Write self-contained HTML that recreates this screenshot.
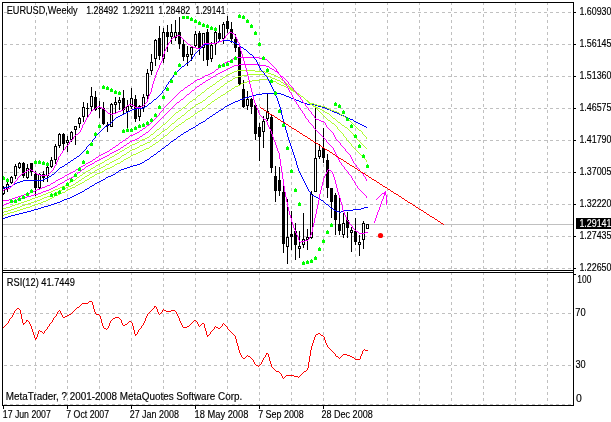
<!DOCTYPE html>
<html><head><meta charset="utf-8"><title>EURUSD Weekly</title>
<style>html,body{margin:0;padding:0;background:#fff;overflow:hidden}svg{display:block}text{font-family:"Liberation Sans",sans-serif;fill:#000;stroke:#000;stroke-width:0.15px}</style>
</head><body>
<svg width="611" height="422" viewBox="0 0 611 422">
<rect x="0" y="0" width="611" height="422" fill="#fff"/>
<g stroke="#c0c0c0" stroke-width="1" stroke-dasharray="3 3" shape-rendering="crispEdges">
<line x1="4" y1="12.5" x2="573" y2="12.5"/>
<line x1="4" y1="44.5" x2="573" y2="44.5"/>
<line x1="4" y1="76.5" x2="573" y2="76.5"/>
<line x1="4" y1="108.5" x2="573" y2="108.5"/>
<line x1="4" y1="140.5" x2="573" y2="140.5"/>
<line x1="4" y1="172.5" x2="573" y2="172.5"/>
<line x1="4" y1="204.5" x2="573" y2="204.5"/>
<line x1="4" y1="236.5" x2="573" y2="236.5"/>
<line x1="4" y1="268.5" x2="573" y2="268.5"/>
<line x1="4" y1="313.5" x2="573" y2="313.5"/>
<line x1="4" y1="365.5" x2="573" y2="365.5"/>
<line x1="4" y1="404.5" x2="573" y2="404.5"/>
<line x1="35.5" y1="2" x2="35.5" y2="270"/>
<line x1="35.5" y1="272" x2="35.5" y2="405"/>
<line x1="67.5" y1="2" x2="67.5" y2="270"/>
<line x1="67.5" y1="272" x2="67.5" y2="405"/>
<line x1="99.5" y1="2" x2="99.5" y2="270"/>
<line x1="99.5" y1="272" x2="99.5" y2="405"/>
<line x1="131.5" y1="2" x2="131.5" y2="270"/>
<line x1="131.5" y1="272" x2="131.5" y2="405"/>
<line x1="163.5" y1="2" x2="163.5" y2="270"/>
<line x1="163.5" y1="272" x2="163.5" y2="405"/>
<line x1="195.5" y1="2" x2="195.5" y2="270"/>
<line x1="195.5" y1="272" x2="195.5" y2="405"/>
<line x1="227.5" y1="2" x2="227.5" y2="270"/>
<line x1="227.5" y1="272" x2="227.5" y2="405"/>
<line x1="259.5" y1="2" x2="259.5" y2="270"/>
<line x1="259.5" y1="272" x2="259.5" y2="405"/>
<line x1="291.5" y1="2" x2="291.5" y2="270"/>
<line x1="291.5" y1="272" x2="291.5" y2="405"/>
<line x1="323.5" y1="2" x2="323.5" y2="270"/>
<line x1="323.5" y1="272" x2="323.5" y2="405"/>
<line x1="355.5" y1="2" x2="355.5" y2="270"/>
<line x1="355.5" y1="272" x2="355.5" y2="405"/>
<line x1="387.5" y1="2" x2="387.5" y2="270"/>
<line x1="387.5" y1="272" x2="387.5" y2="405"/>
<line x1="419.5" y1="2" x2="419.5" y2="270"/>
<line x1="419.5" y1="272" x2="419.5" y2="405"/>
<line x1="451.5" y1="2" x2="451.5" y2="270"/>
<line x1="451.5" y1="272" x2="451.5" y2="405"/>
<line x1="483.5" y1="2" x2="483.5" y2="270"/>
<line x1="483.5" y1="272" x2="483.5" y2="405"/>
<line x1="515.5" y1="2" x2="515.5" y2="270"/>
<line x1="515.5" y1="272" x2="515.5" y2="405"/>
<line x1="547.5" y1="2" x2="547.5" y2="270"/>
<line x1="547.5" y1="272" x2="547.5" y2="405"/>
</g>
<rect x="3" y="224" width="570" height="1" fill="#c0c0c0" shape-rendering="crispEdges"/>
<g shape-rendering="crispEdges">
<rect x="3" y="186" width="1" height="9" fill="#000"/>
<rect x="2" y="188" width="3" height="6" fill="#000"/>
<rect x="3" y="189" width="1" height="4" fill="#fff"/>
<rect x="7" y="182" width="1" height="10" fill="#000"/>
<rect x="6" y="184" width="3" height="5" fill="#000"/>
<rect x="7" y="185" width="1" height="3" fill="#fff"/>
<rect x="11" y="176" width="1" height="8" fill="#000"/>
<rect x="10" y="177" width="3" height="6" fill="#000"/>
<rect x="11" y="178" width="1" height="4" fill="#fff"/>
<rect x="15" y="164" width="1" height="15" fill="#000"/>
<rect x="14" y="166" width="3" height="10" fill="#000"/>
<rect x="15" y="167" width="1" height="8" fill="#fff"/>
<rect x="19" y="162" width="1" height="7" fill="#000"/>
<rect x="18" y="163" width="3" height="5" fill="#000"/>
<rect x="19" y="164" width="1" height="3" fill="#fff"/>
<rect x="23" y="162" width="1" height="16" fill="#000"/>
<rect x="22" y="163" width="3" height="13" fill="#000"/>
<rect x="27" y="164" width="1" height="15" fill="#000"/>
<rect x="26" y="168" width="3" height="10" fill="#000"/>
<rect x="27" y="169" width="1" height="8" fill="#fff"/>
<rect x="31" y="163" width="1" height="13" fill="#000"/>
<rect x="30" y="163" width="3" height="9" fill="#000"/>
<rect x="35" y="171" width="1" height="25" fill="#000"/>
<rect x="34" y="174" width="3" height="14" fill="#000"/>
<rect x="39" y="173" width="1" height="16" fill="#000"/>
<rect x="38" y="174" width="3" height="14" fill="#000"/>
<rect x="39" y="175" width="1" height="12" fill="#fff"/>
<rect x="43" y="171" width="1" height="11" fill="#000"/>
<rect x="42" y="174" width="3" height="4" fill="#000"/>
<rect x="47" y="166" width="1" height="16" fill="#000"/>
<rect x="46" y="167" width="3" height="9" fill="#000"/>
<rect x="47" y="168" width="1" height="7" fill="#fff"/>
<rect x="51" y="157" width="1" height="11" fill="#000"/>
<rect x="50" y="160" width="3" height="7" fill="#000"/>
<rect x="51" y="161" width="1" height="5" fill="#fff"/>
<rect x="55" y="144" width="1" height="20" fill="#000"/>
<rect x="54" y="146" width="3" height="14" fill="#000"/>
<rect x="55" y="147" width="1" height="12" fill="#fff"/>
<rect x="59" y="133" width="1" height="15" fill="#000"/>
<rect x="58" y="134" width="3" height="12" fill="#000"/>
<rect x="59" y="135" width="1" height="10" fill="#fff"/>
<rect x="63" y="133" width="1" height="17" fill="#000"/>
<rect x="62" y="134" width="3" height="10" fill="#000"/>
<rect x="67" y="136" width="1" height="16" fill="#000"/>
<rect x="66" y="140" width="3" height="3" fill="#000"/>
<rect x="67" y="141" width="1" height="1" fill="#fff"/>
<rect x="71" y="131" width="1" height="11" fill="#000"/>
<rect x="70" y="132" width="3" height="8" fill="#000"/>
<rect x="71" y="133" width="1" height="6" fill="#fff"/>
<rect x="75" y="126" width="1" height="19" fill="#000"/>
<rect x="74" y="126" width="3" height="4" fill="#000"/>
<rect x="75" y="127" width="1" height="2" fill="#fff"/>
<rect x="79" y="117" width="1" height="11" fill="#000"/>
<rect x="78" y="118" width="3" height="6" fill="#000"/>
<rect x="79" y="119" width="1" height="4" fill="#fff"/>
<rect x="83" y="102" width="1" height="20" fill="#000"/>
<rect x="82" y="107" width="3" height="10" fill="#000"/>
<rect x="83" y="108" width="1" height="8" fill="#fff"/>
<rect x="87" y="103" width="1" height="15" fill="#000"/>
<rect x="86" y="108" width="3" height="1" fill="#000"/>
<rect x="91" y="87" width="1" height="24" fill="#000"/>
<rect x="90" y="96" width="3" height="11" fill="#000"/>
<rect x="91" y="97" width="1" height="9" fill="#fff"/>
<rect x="95" y="91" width="1" height="20" fill="#000"/>
<rect x="94" y="97" width="3" height="13" fill="#000"/>
<rect x="99" y="101" width="1" height="17" fill="#000"/>
<rect x="98" y="108" width="3" height="1" fill="#000"/>
<rect x="103" y="102" width="1" height="23" fill="#000"/>
<rect x="102" y="108" width="3" height="16" fill="#000"/>
<rect x="107" y="122" width="1" height="10" fill="#000"/>
<rect x="106" y="125" width="3" height="1" fill="#000"/>
<rect x="111" y="103" width="1" height="24" fill="#000"/>
<rect x="110" y="104" width="3" height="23" fill="#000"/>
<rect x="111" y="105" width="1" height="21" fill="#fff"/>
<rect x="115" y="97" width="1" height="17" fill="#000"/>
<rect x="114" y="102" width="3" height="3" fill="#000"/>
<rect x="115" y="103" width="1" height="1" fill="#fff"/>
<rect x="119" y="97" width="1" height="13" fill="#000"/>
<rect x="118" y="100" width="3" height="3" fill="#000"/>
<rect x="119" y="101" width="1" height="1" fill="#fff"/>
<rect x="123" y="90" width="1" height="24" fill="#000"/>
<rect x="122" y="98" width="3" height="12" fill="#000"/>
<rect x="127" y="100" width="1" height="28" fill="#000"/>
<rect x="126" y="106" width="3" height="6" fill="#000"/>
<rect x="127" y="107" width="1" height="4" fill="#fff"/>
<rect x="131" y="88" width="1" height="21" fill="#000"/>
<rect x="130" y="98" width="3" height="9" fill="#000"/>
<rect x="131" y="99" width="1" height="7" fill="#fff"/>
<rect x="135" y="95" width="1" height="27" fill="#000"/>
<rect x="134" y="99" width="3" height="20" fill="#000"/>
<rect x="139" y="105" width="1" height="16" fill="#000"/>
<rect x="138" y="106" width="3" height="11" fill="#000"/>
<rect x="139" y="107" width="1" height="9" fill="#fff"/>
<rect x="143" y="94" width="1" height="18" fill="#000"/>
<rect x="142" y="97" width="3" height="11" fill="#000"/>
<rect x="143" y="98" width="1" height="9" fill="#fff"/>
<rect x="147" y="69" width="1" height="31" fill="#000"/>
<rect x="146" y="73" width="3" height="23" fill="#000"/>
<rect x="147" y="74" width="1" height="21" fill="#fff"/>
<rect x="151" y="54" width="1" height="21" fill="#000"/>
<rect x="150" y="62" width="3" height="9" fill="#000"/>
<rect x="151" y="63" width="1" height="7" fill="#fff"/>
<rect x="155" y="39" width="1" height="27" fill="#000"/>
<rect x="154" y="40" width="3" height="19" fill="#000"/>
<rect x="155" y="41" width="1" height="17" fill="#fff"/>
<rect x="159" y="26" width="1" height="34" fill="#000"/>
<rect x="158" y="38" width="3" height="18" fill="#000"/>
<rect x="163" y="28" width="1" height="35" fill="#000"/>
<rect x="162" y="32" width="3" height="27" fill="#000"/>
<rect x="163" y="33" width="1" height="25" fill="#fff"/>
<rect x="167" y="25" width="1" height="27" fill="#000"/>
<rect x="166" y="32" width="3" height="5" fill="#000"/>
<rect x="171" y="24" width="1" height="20" fill="#000"/>
<rect x="170" y="32" width="3" height="5" fill="#000"/>
<rect x="171" y="33" width="1" height="3" fill="#fff"/>
<rect x="175" y="20" width="1" height="21" fill="#000"/>
<rect x="174" y="32" width="3" height="6" fill="#000"/>
<rect x="175" y="33" width="1" height="4" fill="#fff"/>
<rect x="179" y="17" width="1" height="32" fill="#000"/>
<rect x="178" y="32" width="3" height="12" fill="#000"/>
<rect x="183" y="39" width="1" height="22" fill="#000"/>
<rect x="182" y="44" width="3" height="13" fill="#000"/>
<rect x="187" y="46" width="1" height="20" fill="#000"/>
<rect x="186" y="54" width="3" height="3" fill="#000"/>
<rect x="187" y="55" width="1" height="1" fill="#fff"/>
<rect x="191" y="46" width="1" height="15" fill="#000"/>
<rect x="190" y="47" width="3" height="8" fill="#000"/>
<rect x="191" y="48" width="1" height="6" fill="#fff"/>
<rect x="195" y="31" width="1" height="16" fill="#000"/>
<rect x="194" y="34" width="3" height="12" fill="#000"/>
<rect x="195" y="35" width="1" height="10" fill="#fff"/>
<rect x="199" y="31" width="1" height="24" fill="#000"/>
<rect x="198" y="33" width="3" height="15" fill="#000"/>
<rect x="203" y="33" width="1" height="28" fill="#000"/>
<rect x="202" y="33" width="3" height="15" fill="#000"/>
<rect x="203" y="34" width="1" height="13" fill="#fff"/>
<rect x="207" y="29" width="1" height="37" fill="#000"/>
<rect x="206" y="32" width="3" height="28" fill="#000"/>
<rect x="211" y="42" width="1" height="20" fill="#000"/>
<rect x="210" y="45" width="3" height="14" fill="#000"/>
<rect x="211" y="46" width="1" height="12" fill="#fff"/>
<rect x="215" y="30" width="1" height="25" fill="#000"/>
<rect x="214" y="32" width="3" height="12" fill="#000"/>
<rect x="215" y="33" width="1" height="10" fill="#fff"/>
<rect x="219" y="25" width="1" height="17" fill="#000"/>
<rect x="218" y="33" width="3" height="6" fill="#000"/>
<rect x="223" y="22" width="1" height="22" fill="#000"/>
<rect x="222" y="24" width="3" height="15" fill="#000"/>
<rect x="223" y="25" width="1" height="13" fill="#fff"/>
<rect x="227" y="16" width="1" height="17" fill="#000"/>
<rect x="226" y="21" width="3" height="8" fill="#000"/>
<rect x="231" y="22" width="1" height="21" fill="#000"/>
<rect x="230" y="29" width="3" height="10" fill="#000"/>
<rect x="235" y="34" width="1" height="18" fill="#000"/>
<rect x="234" y="39" width="3" height="9" fill="#000"/>
<rect x="239" y="46" width="1" height="40" fill="#000"/>
<rect x="238" y="47" width="3" height="37" fill="#000"/>
<rect x="243" y="80" width="1" height="28" fill="#000"/>
<rect x="242" y="89" width="3" height="18" fill="#000"/>
<rect x="247" y="91" width="1" height="19" fill="#000"/>
<rect x="246" y="99" width="3" height="7" fill="#000"/>
<rect x="247" y="100" width="1" height="5" fill="#fff"/>
<rect x="251" y="98" width="1" height="16" fill="#000"/>
<rect x="250" y="99" width="3" height="8" fill="#000"/>
<rect x="255" y="104" width="1" height="36" fill="#000"/>
<rect x="254" y="105" width="3" height="29" fill="#000"/>
<rect x="259" y="123" width="1" height="38" fill="#000"/>
<rect x="258" y="127" width="3" height="10" fill="#000"/>
<rect x="263" y="116" width="1" height="32" fill="#000"/>
<rect x="262" y="121" width="3" height="11" fill="#000"/>
<rect x="263" y="122" width="1" height="9" fill="#fff"/>
<rect x="267" y="93" width="1" height="28" fill="#000"/>
<rect x="266" y="111" width="3" height="8" fill="#000"/>
<rect x="267" y="112" width="1" height="6" fill="#fff"/>
<rect x="271" y="114" width="1" height="59" fill="#000"/>
<rect x="270" y="117" width="3" height="51" fill="#000"/>
<rect x="275" y="166" width="1" height="36" fill="#000"/>
<rect x="274" y="176" width="3" height="15" fill="#000"/>
<rect x="279" y="167" width="1" height="29" fill="#000"/>
<rect x="278" y="180" width="3" height="11" fill="#000"/>
<rect x="283" y="185" width="1" height="68" fill="#000"/>
<rect x="282" y="192" width="3" height="52" fill="#000"/>
<rect x="287" y="199" width="1" height="65" fill="#000"/>
<rect x="286" y="237" width="3" height="10" fill="#000"/>
<rect x="287" y="238" width="1" height="8" fill="#fff"/>
<rect x="291" y="211" width="1" height="39" fill="#000"/>
<rect x="290" y="234" width="3" height="3" fill="#000"/>
<rect x="295" y="223" width="1" height="37" fill="#000"/>
<rect x="294" y="231" width="3" height="14" fill="#000"/>
<rect x="299" y="231" width="1" height="27" fill="#000"/>
<rect x="298" y="246" width="3" height="3" fill="#000"/>
<rect x="299" y="247" width="1" height="1" fill="#fff"/>
<rect x="303" y="213" width="1" height="35" fill="#000"/>
<rect x="302" y="239" width="3" height="6" fill="#000"/>
<rect x="303" y="240" width="1" height="4" fill="#fff"/>
<rect x="307" y="229" width="1" height="21" fill="#000"/>
<rect x="306" y="237" width="3" height="3" fill="#000"/>
<rect x="307" y="238" width="1" height="1" fill="#fff"/>
<rect x="311" y="191" width="1" height="48" fill="#000"/>
<rect x="310" y="194" width="3" height="44" fill="#000"/>
<rect x="311" y="195" width="1" height="42" fill="#fff"/>
<rect x="315" y="106" width="1" height="86" fill="#000"/>
<rect x="314" y="158" width="3" height="34" fill="#000"/>
<rect x="315" y="159" width="1" height="32" fill="#fff"/>
<rect x="319" y="144" width="1" height="15" fill="#000"/>
<rect x="318" y="150" width="3" height="7" fill="#000"/>
<rect x="319" y="151" width="1" height="5" fill="#fff"/>
<rect x="323" y="128" width="1" height="35" fill="#000"/>
<rect x="322" y="148" width="3" height="10" fill="#000"/>
<rect x="327" y="154" width="1" height="44" fill="#000"/>
<rect x="326" y="160" width="3" height="28" fill="#000"/>
<rect x="331" y="188" width="1" height="30" fill="#000"/>
<rect x="330" y="188" width="3" height="14" fill="#000"/>
<rect x="335" y="193" width="1" height="42" fill="#000"/>
<rect x="334" y="195" width="3" height="25" fill="#000"/>
<rect x="339" y="197" width="1" height="38" fill="#000"/>
<rect x="338" y="224" width="3" height="7" fill="#000"/>
<rect x="343" y="213" width="1" height="25" fill="#000"/>
<rect x="342" y="223" width="3" height="12" fill="#000"/>
<rect x="343" y="224" width="1" height="10" fill="#fff"/>
<rect x="347" y="212" width="1" height="26" fill="#000"/>
<rect x="346" y="220" width="3" height="8" fill="#000"/>
<rect x="351" y="227" width="1" height="25" fill="#000"/>
<rect x="350" y="230" width="3" height="3" fill="#000"/>
<rect x="351" y="231" width="1" height="1" fill="#fff"/>
<rect x="355" y="218" width="1" height="27" fill="#000"/>
<rect x="354" y="231" width="3" height="11" fill="#000"/>
<rect x="359" y="235" width="1" height="21" fill="#000"/>
<rect x="358" y="242" width="3" height="3" fill="#000"/>
<rect x="359" y="243" width="1" height="1" fill="#fff"/>
<rect x="363" y="221" width="1" height="28" fill="#000"/>
<rect x="362" y="223" width="3" height="17" fill="#000"/>
<rect x="363" y="224" width="1" height="15" fill="#fff"/>
<rect x="367" y="224" width="1" height="5" fill="#000"/>
<rect x="366" y="224" width="3" height="5" fill="#000"/>
<rect x="367" y="225" width="1" height="3" fill="#fff"/>
</g>
<path d="M252 95.5h4M284 95.5h2M170 142.5h1M262 93.5h19M158 151.5h2M189 129.5h2M108 176.5h3M181 134.5h2M116 172.5h2M229 104.5h2M307 104.5h8M162 148.5h2M245 97.5h4M289 97.5h2M147 159.5h2M256 94.5h6M281 94.5h3M34 209.5h4M121 169.5h3M15 214.5h4M67 198.5h3M113 174.5h2M231 103.5h2M304 103.5h3M209 117.5h1M346 117.5h2M127 167.5h3M23 212.5h4M78 193.5h2M174 139.5h2M57 202.5h3M227 105.5h2M315 105.5h3M186 131.5h2M243 98.5h2M291 98.5h3M5 217.5h3M178 136.5h2M133 165.5h4M166 145.5h2M207 118.5h2M348 118.5h2M219 110.5h2M330 110.5h2M115 173.5h1M41 207.5h3M224 107.5h1M322 107.5h3M225 106.5h2M318 106.5h4M74 195.5h2M238 100.5h2M296 100.5h3M92 185.5h2M80 192.5h2M249 96.5h3M286 96.5h3M212 115.5h1M341 115.5h3M54 203.5h3M31 210.5h3M161 149.5h1M196 125.5h2M362 125.5h2M11 215.5h4M216 112.5h2M334 112.5h3M119 170.5h2M64 199.5h3M165 146.5h1M111 175.5h2M145 160.5h2M60 201.5h2M19 213.5h4M84 190.5h1M124 168.5h3M130 166.5h3M198 124.5h1M360 124.5h2M76 194.5h2M233 102.5h2M301 102.5h3M188 130.5h1M180 135.5h1M48 205.5h3M201 122.5h2M356 122.5h2M213 114.5h2M339 114.5h2M184 132.5h2M169 143.5h1M106 177.5h2M150 157.5h1M218 111.5h1M332 111.5h2M142 162.5h2M173 140.5h1M38 208.5h3M210 116.5h2M344 116.5h2M199 123.5h2M358 123.5h2M215 113.5h1M337 113.5h2M221 109.5h2M327 109.5h3M72 196.5h2M235 101.5h3M299 101.5h2M44 206.5h4M240 99.5h3M294 99.5h2M203 121.5h2M354 121.5h2M3 218.5h2M103 179.5h2M51 204.5h3M137 164.5h3M206 119.5h1M350 119.5h3M8 216.5h3M99 181.5h2M151 156.5h2M144 161.5h1M156 153.5h1M62 200.5h2M160 150.5h1M118 171.5h1M90 186.5h2M27 211.5h4M82 191.5h2M140 163.5h2M195 126.5h1M364 126.5h2M101 180.5h2M164 147.5h1M70 197.5h2M105 178.5h1M171 141.5h2M97 182.5h2M183 133.5h1M89 187.5h1M205 120.5h1M353 120.5h1M85 189.5h2M193 127.5h2M366 127.5h1M154 154.5h2M223 108.5h1M325 108.5h2M177 137.5h1M95 183.5h2M87 188.5h2M191 128.5h2M168 144.5h1M149 158.5h1M153 155.5h1M157 152.5h1M176 138.5h1M94 184.5h1" fill="none" stroke="#0000ff" stroke-width="1" shape-rendering="crispEdges"/>
<path d="M362.5 132v2M366.5 137v2M244 82.5h3M276 82.5h1M38 203.5h3M198 111.5h2M334 111.5h3M117 163.5h3M203 108.5h2M327 108.5h2M107 168.5h3M150 146.5h2M58 194.5h2M100 172.5h2M197 112.5h1M337 112.5h2M259 79.5h9M136 153.5h2M72 187.5h3M10 212.5h4M226 92.5h1M295 92.5h1M35 204.5h3M131 155.5h2M78 184.5h2M165 135.5h2M364 135.5h1M240 84.5h1M279 84.5h2M188 118.5h2M346 118.5h2M17 210.5h3M223 94.5h2M298 94.5h2M234 87.5h1M286 87.5h2M225 93.5h1M296 93.5h2M235 86.5h3M284 86.5h2M146 148.5h3M171 130.5h2M359 130.5h2M50 198.5h2M232 88.5h2M288 88.5h2M23 208.5h3M170 131.5h1M361 131.5h1M231 89.5h1M290 89.5h1M55 195.5h3M238 85.5h2M281 85.5h3M247 81.5h5M273 81.5h3M46 200.5h2M115 164.5h2M252 80.5h7M268 80.5h5M30 206.5h2M128 157.5h2M120 162.5h1M215 99.5h2M305 99.5h1M241 83.5h3M277 83.5h2M208 104.5h2M314 104.5h3M193 115.5h1M342 115.5h1M227 91.5h2M293 91.5h2M185 120.5h1M349 120.5h1M220 96.5h1M301 96.5h2M92 176.5h2M155 143.5h1M200 110.5h2M331 110.5h3M142 150.5h2M214 100.5h1M306 100.5h2M41 202.5h2M186 119.5h2M348 119.5h1M205 107.5h1M325 107.5h2M105 169.5h2M212 101.5h2M308 101.5h1M138 152.5h2M26 207.5h4M124 159.5h2M175 127.5h1M356 127.5h1M7 213.5h3M76 185.5h2M133 154.5h3M174 128.5h1M357 128.5h1M14 211.5h3M156 142.5h2M80 183.5h2M207 105.5h1M317 105.5h4M149 147.5h1M194 114.5h1M340 114.5h2M52 197.5h2M153 144.5h2M97 173.5h3M20 209.5h3M176 126.5h2M355 126.5h1M218 97.5h2M303 97.5h1M48 199.5h2M191 116.5h2M343 116.5h2M202 109.5h1M329 109.5h2M126 158.5h2M32 205.5h3M130 156.5h1M62 192.5h3M206 106.5h1M321 106.5h4M68 189.5h2M167 134.5h1M363 134.5h1M144 149.5h2M161 138.5h2M43 201.5h3M4 214.5h3M114 165.5h1M229 90.5h2M291 90.5h2M210 103.5h1M310 103.5h4M195 113.5h2M339 113.5h1M140 151.5h2M90 177.5h2M179 124.5h2M353 124.5h1M211 102.5h1M309 102.5h1M82 182.5h2M95 174.5h2M87 179.5h2M110 167.5h2M60 193.5h2M184 121.5h1M350 121.5h1M182 122.5h2M351 122.5h1M70 188.5h2M159 140.5h1M75 186.5h1M173 129.5h1M358 129.5h1M163 137.5h1M89 178.5h1M152 145.5h1M164 136.5h1M365 136.5h1M102 171.5h2M66 190.5h2M190 117.5h1M345 117.5h1M178 125.5h1M354 125.5h1M85 180.5h2M217 98.5h1M304 98.5h1M112 166.5h2M221 95.5h2M300 95.5h1M181 123.5h1M352 123.5h1M158 141.5h1M104 170.5h1M54 196.5h1M123 160.5h1M169 132.5h1M65 191.5h1M160 139.5h1M3 215.5h1M84 181.5h1M94 175.5h1M168 133.5h1M121 161.5h2" fill="none" stroke="#adff2f" stroke-width="1" shape-rendering="crispEdges"/>
<path d="M353.5 134v2M152 139.5h1M357 139.5h1M28 203.5h3M192 107.5h2M316 107.5h2M248 74.5h17M11 209.5h3M238 76.5h4M267 76.5h3M235 77.5h3M270 77.5h2M34 201.5h3M139 146.5h1M364 146.5h1M164 130.5h1M349 130.5h1M230 80.5h2M277 80.5h3M51 194.5h3M109 163.5h1M225 83.5h2M283 83.5h1M101 167.5h2M216 90.5h1M293 90.5h1M47 196.5h3M178 118.5h2M333 118.5h2M127 152.5h2M205 99.5h1M305 99.5h1M212 93.5h2M297 93.5h1M135 148.5h2M366 148.5h1M182 115.5h2M330 115.5h1M200 102.5h2M308 102.5h1M177 119.5h1M335 119.5h1M171 124.5h1M341 124.5h1M31 202.5h3M66 187.5h2M140 145.5h3M363 145.5h1M242 75.5h6M265 75.5h2M157 135.5h2M42 198.5h2M105 165.5h1M92 172.5h2M20 206.5h2M151 140.5h1M358 140.5h1M97 169.5h2M89 174.5h1M220 87.5h1M289 87.5h1M14 208.5h3M208 96.5h2M301 96.5h2M168 127.5h1M345 127.5h2M186 112.5h1M325 112.5h2M232 79.5h1M275 79.5h2M224 84.5h1M284 84.5h2M25 204.5h3M190 109.5h1M320 109.5h2M62 189.5h3M172 123.5h2M340 123.5h1M4 211.5h4M217 89.5h2M291 89.5h2M37 200.5h3M76 182.5h2M165 129.5h2M348 129.5h1M169 126.5h1M344 126.5h1M81 179.5h1M73 184.5h2M85 176.5h2M228 81.5h2M280 81.5h1M17 207.5h3M58 191.5h2M221 86.5h2M287 86.5h2M137 147.5h2M365 147.5h1M184 114.5h1M329 114.5h1M132 149.5h3M162 131.5h2M350 131.5h1M207 97.5h1M303 97.5h1M194 106.5h1M314 106.5h2M68 186.5h3M103 166.5h2M147 142.5h3M360 142.5h1M99 168.5h2M44 197.5h3M196 104.5h2M310 104.5h2M233 78.5h2M272 78.5h3M211 94.5h1M298 94.5h2M60 190.5h2M215 91.5h1M294 91.5h1M126 153.5h1M203 100.5h2M306 100.5h1M118 158.5h2M181 116.5h1M331 116.5h1M55 192.5h3M65 188.5h1M214 92.5h1M295 92.5h2M90 173.5h2M176 120.5h1M336 120.5h1M82 178.5h2M75 183.5h1M95 170.5h2M40 199.5h2M191 108.5h1M318 108.5h2M87 175.5h2M153 138.5h2M356 138.5h1M161 132.5h1M351 132.5h1M195 105.5h1M312 105.5h2M188 110.5h2M322 110.5h2M219 88.5h1M290 88.5h1M122 155.5h2M114 160.5h2M223 85.5h1M286 85.5h1M130 150.5h2M198 103.5h2M309 103.5h1M175 121.5h1M337 121.5h1M79 180.5h2M71 185.5h2M8 210.5h3M145 143.5h2M361 143.5h1M180 117.5h1M332 117.5h1M110 162.5h2M106 164.5h3M202 101.5h1M307 101.5h1M120 157.5h1M206 98.5h1M304 98.5h1M210 95.5h1M300 95.5h1M156 136.5h1M354 136.5h1M124 154.5h2M116 159.5h2M54 193.5h1M185 113.5h1M327 113.5h2M22 205.5h3M227 82.5h1M281 82.5h2M160 133.5h1M352 133.5h1M170 125.5h1M342 125.5h2M155 137.5h1M355 137.5h1M143 144.5h2M362 144.5h1M150 141.5h1M359 141.5h1M159 134.5h1M78 181.5h1M112 161.5h2M50 195.5h1M174 122.5h1M338 122.5h2M167 128.5h1M347 128.5h1M3 212.5h1M84 177.5h1M94 171.5h1M187 111.5h1M324 111.5h1M129 151.5h1M121 156.5h1" fill="none" stroke="#adff2f" stroke-width="1" shape-rendering="crispEdges"/>
<path d="M346.5 138v2M337.5 127v2M366.5 160v2M351.5 144v2M343.5 134v2M75 179.5h1M237 70.5h18M193 99.5h2M305 99.5h1M129 146.5h1M352 146.5h1M175 113.5h1M321 113.5h1M234 71.5h3M255 71.5h10M120 151.5h2M357 151.5h1M166 122.5h1M331 122.5h1M112 156.5h2M362 156.5h1M100 163.5h2M163 124.5h2M334 124.5h1M179 110.5h2M318 110.5h1M125 148.5h2M354 148.5h1M215 83.5h1M286 83.5h1M159 128.5h1M66 184.5h2M147 137.5h2M345 137.5h1M3 208.5h3M205 90.5h1M294 90.5h1M232 72.5h2M265 72.5h3M190 101.5h2M307 101.5h1M201 93.5h1M297 93.5h2M189 102.5h1M308 102.5h1M178 111.5h1M319 111.5h1M117 153.5h2M359 153.5h1M109 158.5h1M364 158.5h1M183 107.5h2M315 107.5h1M228 74.5h2M271 74.5h3M96 165.5h2M43 194.5h3M88 170.5h2M198 95.5h2M300 95.5h1M15 204.5h3M170 118.5h1M326 118.5h1M127 147.5h2M353 147.5h1M135 143.5h2M350 143.5h1M53 190.5h2M21 202.5h3M167 121.5h1M330 121.5h1M140 140.5h2M347 140.5h1M220 79.5h2M281 79.5h1M32 198.5h3M209 87.5h1M290 87.5h1M219 80.5h1M282 80.5h2M206 89.5h1M293 89.5h1M213 84.5h2M287 84.5h1M80 175.5h2M73 180.5h2M105 160.5h2M225 76.5h1M276 76.5h2M93 167.5h2M38 196.5h3M217 81.5h2M284 81.5h1M202 92.5h2M296 92.5h1M85 172.5h1M122 150.5h2M356 150.5h1M185 106.5h1M313 106.5h2M115 154.5h2M360 154.5h1M48 192.5h3M150 135.5h1M139 141.5h1M348 141.5h1M165 123.5h1M332 123.5h2M65 185.5h1M154 132.5h1M341 132.5h1M77 177.5h2M124 149.5h1M355 149.5h1M69 182.5h2M157 129.5h2M338 129.5h1M6 207.5h4M171 117.5h1M325 117.5h1M60 187.5h2M161 126.5h1M336 126.5h1M30 199.5h2M196 97.5h1M303 97.5h1M107 159.5h2M365 159.5h1M226 75.5h2M274 75.5h2M98 164.5h2M230 73.5h2M268 73.5h3M207 88.5h2M291 88.5h2M174 114.5h1M322 114.5h1M18 203.5h3M137 142.5h2M349 142.5h1M172 116.5h1M324 116.5h1M142 139.5h3M187 104.5h1M310 104.5h2M132 144.5h3M55 189.5h3M24 201.5h3M200 94.5h1M299 94.5h1M212 85.5h1M288 85.5h1M223 77.5h2M278 77.5h2M95 166.5h1M41 195.5h2M204 91.5h1M295 91.5h1M86 171.5h2M35 197.5h3M46 193.5h2M169 119.5h1M327 119.5h1M156 130.5h1M339 130.5h1M79 176.5h1M71 181.5h2M62 186.5h3M91 168.5h2M83 173.5h2M160 127.5h1M149 136.5h1M344 136.5h1M188 103.5h1M309 103.5h1M10 206.5h2M176 112.5h2M320 112.5h1M114 155.5h1M361 155.5h1M168 120.5h1M328 120.5h2M58 188.5h2M27 200.5h3M145 138.5h2M195 98.5h1M304 98.5h1M210 86.5h2M289 86.5h1M110 157.5h2M363 157.5h1M102 162.5h2M222 78.5h1M280 78.5h1M12 205.5h3M151 134.5h2M90 169.5h1M82 174.5h1M182 108.5h1M316 108.5h1M51 191.5h2M173 115.5h1M323 115.5h1M155 131.5h1M340 131.5h1M197 96.5h1M301 96.5h2M186 105.5h1M312 105.5h1M104 161.5h1M162 125.5h1M335 125.5h1M153 133.5h1M342 133.5h1M216 82.5h1M285 82.5h1M76 178.5h1M68 183.5h1M130 145.5h2M119 152.5h1M358 152.5h1M192 100.5h1M306 100.5h1M181 109.5h1M317 109.5h1" fill="none" stroke="#adff2f" stroke-width="1" shape-rendering="crispEdges"/>
<path d="M335.5 137v2M356.5 165v2M300.5 97v2M340.5 143v2M311.5 112v2M314.5 116v2M359.5 169v2M293.5 88v2M351.5 157v2M288.5 82v2M333.5 133v2M350.5 155v2M302.5 100v2M305.5 104v2M345.5 149v2M334.5 135v2M353.5 161v2M308.5 108v2M352.5 159v2M326.5 125v2M363.5 174v2M366.5 179v2M296.5 92v2M325.5 123v2M365.5 177v2M160 119.5h1M316 119.5h3M222 71.5h2M275 71.5h2M43 191.5h3M175 104.5h1M86 166.5h2M31 195.5h3M232 66.5h2M266 66.5h3M124 145.5h2M341 145.5h1M230 67.5h2M269 67.5h1M143 134.5h2M179 101.5h1M78 172.5h2M361 172.5h1M123 146.5h1M342 146.5h1M71 177.5h2M4 204.5h2M9 202.5h2M62 182.5h2M90 164.5h2M355 164.5h1M163 116.5h1M234 65.5h5M258 65.5h8M109 154.5h1M349 154.5h1M200 84.5h2M289 84.5h1M14 200.5h3M199 85.5h1M290 85.5h1M101 158.5h2M190 92.5h1M38 193.5h3M135 139.5h2M336 139.5h1M239 64.5h19M194 89.5h1M226 69.5h2M272 69.5h2M148 131.5h1M331 131.5h1M183 98.5h1M159 120.5h1M319 120.5h2M213 76.5h2M281 76.5h2M140 136.5h2M181 99.5h2M301 99.5h1M197 86.5h2M291 86.5h1M67 179.5h2M55 186.5h2M218 73.5h2M278 73.5h1M58 184.5h2M210 78.5h1M284 78.5h1M27 196.5h4M170 109.5h1M161 118.5h1M315 118.5h1M73 176.5h2M364 176.5h1M105 156.5h2M92 163.5h2M354 163.5h1M150 129.5h1M329 129.5h1M97 160.5h2M149 130.5h1M330 130.5h1M88 165.5h2M34 194.5h4M158 121.5h1M321 121.5h3M202 83.5h1M127 143.5h2M23 197.5h4M120 148.5h1M344 148.5h1M51 188.5h2M228 68.5h2M270 68.5h2M77 173.5h1M362 173.5h1M69 178.5h2M60 183.5h2M224 70.5h2M274 70.5h1M167 112.5h1M81 170.5h1M220 72.5h2M277 72.5h1M85 167.5h1M357 167.5h1M11 201.5h3M46 190.5h3M177 102.5h2M303 102.5h1M155 124.5h1M41 192.5h2M17 199.5h3M116 150.5h2M107 155.5h2M84 168.5h1M358 168.5h1M142 135.5h1M132 140.5h3M337 140.5h1M65 180.5h2M185 96.5h1M299 96.5h1M3 205.5h1M174 105.5h1M57 185.5h1M146 132.5h2M332 132.5h1M189 93.5h1M6 203.5h3M99 159.5h2M162 117.5h1M121 147.5h2M343 147.5h1M164 115.5h1M313 115.5h1M192 90.5h2M294 90.5h1M211 77.5h2M283 77.5h1M203 82.5h2M126 144.5h1M196 87.5h1M292 87.5h1M118 149.5h2M53 187.5h2M216 74.5h2M279 74.5h1M208 79.5h2M285 79.5h1M49 189.5h2M82 169.5h2M95 161.5h2M169 110.5h1M309 110.5h1M173 106.5h1M306 106.5h1M76 174.5h1M80 171.5h1M360 171.5h1M157 122.5h1M324 122.5h1M114 151.5h2M346 151.5h1M20 198.5h3M130 141.5h2M338 141.5h1M64 181.5h1M110 153.5h2M348 153.5h1M206 80.5h2M286 80.5h1M152 127.5h1M327 127.5h1M187 94.5h2M297 94.5h1M176 103.5h1M304 103.5h1M191 91.5h1M295 91.5h1M145 133.5h1M180 100.5h1M137 138.5h2M94 162.5h1M195 88.5h1M171 108.5h1M139 137.5h1M112 152.5h2M347 152.5h1M103 157.5h2M172 107.5h1M307 107.5h1M151 128.5h1M328 128.5h1M166 113.5h1M154 125.5h1M186 95.5h1M298 95.5h1M205 81.5h1M287 81.5h1M168 111.5h1M310 111.5h1M215 75.5h1M280 75.5h1M129 142.5h1M339 142.5h1M184 97.5h1M165 114.5h1M312 114.5h1M156 123.5h1M153 126.5h1M75 175.5h1" fill="none" stroke="#ff00ff" stroke-width="1" shape-rendering="crispEdges"/>
<path d="M300.5 108v2M308.5 120v2M337.5 156v2M341.5 163v2M334.5 150v2M355.5 183v2M366.5 196v2M304.5 114v2M344.5 167v2M351.5 176v2M333.5 148v2M159.5 113v2M336.5 154v2M278.5 72v2M335.5 152v2M294.5 99v2M276.5 69v2M298.5 105v2M280.5 75v2M291.5 93v2M313.5 126v2M293.5 97v2M326.5 140v2M287.5 86v2M348.5 172v2M352.5 178v2M289.5 90v2M282.5 78v2M286.5 84v2M163.5 108v2M296.5 102v2M292.5 95v2M288.5 88v2M339.5 160v2M284.5 81v2M354.5 181v2M357.5 186v2M302.5 111v2M305.5 116v2M338.5 158v2M128 137.5h1M323 137.5h1M75 170.5h1M346 170.5h1M109 150.5h1M32 191.5h3M361 191.5h1M235 57.5h24M88 162.5h2M340 162.5h1M120 142.5h2M327 142.5h1M116 145.5h2M330 145.5h1M151 122.5h1M309 122.5h1M113 147.5h2M332 147.5h1M179 92.5h1M290 92.5h1M101 154.5h2M133 134.5h2M320 134.5h1M197 79.5h3M125 139.5h1M325 139.5h1M156 117.5h1M15 197.5h3M37 189.5h3M359 189.5h1M227 61.5h3M268 61.5h1M129 136.5h1M322 136.5h1M164 107.5h1M299 107.5h1M71 172.5h2M62 177.5h2M105 152.5h2M154 119.5h1M307 119.5h1M232 59.5h1M263 59.5h4M3 200.5h6M85 164.5h1M183 89.5h1M12 198.5h3M35 190.5h2M360 190.5h1M187 86.5h1M176 95.5h1M167 104.5h1M297 104.5h1M233 58.5h2M259 58.5h4M230 60.5h2M267 60.5h1M147 125.5h2M312 125.5h1M214 71.5h1M277 71.5h1M24 194.5h3M364 194.5h1M67 174.5h2M349 174.5h1M55 181.5h1M58 179.5h2M219 67.5h1M274 67.5h1M81 166.5h2M343 166.5h1M218 68.5h1M275 68.5h1M73 171.5h2M347 171.5h1M30 192.5h2M362 192.5h1M130 135.5h3M321 135.5h1M200 78.5h2M123 140.5h2M188 85.5h2M221 65.5h2M272 65.5h1M205 75.5h3M225 62.5h2M269 62.5h1M107 151.5h2M135 133.5h2M319 133.5h1M171 100.5h1M18 196.5h3M51 183.5h2M150 123.5h1M310 123.5h1M69 173.5h2M60 178.5h2M139 131.5h1M317 131.5h1M137 132.5h2M318 132.5h1M193 82.5h1M185 87.5h2M112 148.5h1M158 115.5h1M126 138.5h2M324 138.5h1M178 93.5h1M103 153.5h2M42 187.5h3M181 90.5h2M9 199.5h3M21 195.5h3M365 195.5h1M65 175.5h2M350 175.5h1M56 180.5h2M353 180.5h1M166 105.5h1M47 185.5h3M356 185.5h1M27 193.5h3M363 193.5h1M161 111.5h1M99 155.5h2M92 160.5h1M80 167.5h1M76 169.5h2M345 169.5h1M212 72.5h2M118 144.5h1M329 144.5h1M153 120.5h1M53 182.5h2M216 69.5h2M173 98.5h1M142 129.5h1M315 129.5h1M208 74.5h2M279 74.5h1M83 165.5h2M342 165.5h1M96 157.5h2M119 143.5h1M328 143.5h1M110 149.5h2M191 83.5h2M285 83.5h1M93 159.5h2M122 141.5h1M40 188.5h2M358 188.5h1M204 76.5h1M45 186.5h2M143 128.5h2M314 128.5h1M210 73.5h2M168 103.5h1M64 176.5h1M195 80.5h2M283 80.5h1M98 156.5h1M90 161.5h2M180 91.5h1M160 112.5h1M184 88.5h1M140 130.5h2M316 130.5h1M149 124.5h1M311 124.5h1M86 163.5h2M78 168.5h2M202 77.5h2M281 77.5h1M175 96.5h1M152 121.5h1M224 63.5h1M270 63.5h1M223 64.5h1M271 64.5h1M155 118.5h1M306 118.5h1M170 101.5h1M295 101.5h1M190 84.5h1M194 81.5h1M220 66.5h1M273 66.5h1M146 126.5h1M303 113.5h1M177 94.5h1M115 146.5h1M331 146.5h1M50 184.5h1M162 110.5h1M301 110.5h1M165 106.5h1M157 116.5h1M174 97.5h1M215 70.5h1M172 99.5h1M95 158.5h1M145 127.5h1M169 102.5h1" fill="none" stroke="#ff00ff" stroke-width="1" shape-rendering="crispEdges"/>
<path d="M173.5 75v2M285.5 126v4M281.5 110v5M271.5 85v2M274.5 91v2M168.5 82v2M192.5 57v2M310.5 192v2M295.5 158v3M256.5 60v2M264.5 73v2M288.5 137v3M278.5 101v3M298.5 168v3M291.5 146v3M292.5 149v3M86.5 147v2M270.5 83v2M306.5 185v2M284.5 122v4M267.5 77v2M277.5 98v3M294.5 155v3M269.5 81v2M287.5 133v4M308.5 189v2M297.5 165v3M170.5 79v2M290.5 143v3M194.5 54v2M307.5 187v2M272.5 87v2M280.5 107v3M293.5 152v3M283.5 119v3M304.5 181v2M268.5 79v2M166.5 85v2M282.5 115v4M286.5 130v3M276.5 96v2M296.5 161v4M92.5 140v2M289.5 140v3M303.5 179v2M279.5 104v3M275.5 93v3M95.5 136v2M165.5 87v2M260.5 68v2M253.5 56v2M305.5 183v2M302.5 177v2M257.5 62v2M299.5 171v2M259.5 66v2M301.5 175v2M273.5 89v2M258.5 64v2M300.5 173v2M162.5 91v2M161 93.5h1M330 207.5h1M364 207.5h4M204 44.5h5M237 44.5h2M316 197.5h2M195 53.5h1M249 53.5h1M20 181.5h3M110 123.5h1M318 198.5h1M83 151.5h1M23 180.5h20M4 187.5h4M60 167.5h2M312 195.5h2M126 112.5h2M331 208.5h2M361 208.5h3M130 110.5h2M179 69.5h1M164 89.5h1M45 178.5h3M200 48.5h1M243 48.5h1M136 108.5h7M222 40.5h8M148 104.5h1M333 209.5h1M353 209.5h8M152 101.5h1M176 72.5h1M263 72.5h1M156 98.5h1M209 43.5h7M235 43.5h2M122 114.5h2M199 49.5h1M244 49.5h2M114 119.5h1M182 66.5h2M65 164.5h2M51 175.5h1M132 109.5h4M186 63.5h2M77 156.5h2M218 41.5h4M230 41.5h3M101 130.5h1M70 161.5h1M55 172.5h1M326 204.5h2M334 210.5h2M344 210.5h9M17 182.5h3M328 205.5h1M159 95.5h1M171 78.5h1M201 47.5h1M241 47.5h2M90 143.5h1M108 124.5h2M8 186.5h4M62 166.5h2M336 211.5h3M341 211.5h3M128 111.5h2M85 149.5h1M74 158.5h2M43 179.5h2M13 184.5h2M98 133.5h1M202 46.5h1M240 46.5h1M319 199.5h2M309 191.5h1M93 139.5h1M266 76.5h1M323 201.5h1M112 121.5h1M167 84.5h1M124 113.5h2M147 105.5h1M120 115.5h2M250 54.5h2M151 102.5h1M49 176.5h2M189 61.5h1M80 154.5h1M15 183.5h2M178 70.5h1M261 70.5h1M321 200.5h2M88 145.5h1M314 196.5h2M154 99.5h2M197 51.5h1M247 51.5h1M158 96.5h1M143 107.5h2M116 117.5h2M311 194.5h1M216 42.5h2M233 42.5h2M96 135.5h1M57 170.5h1M68 162.5h2M329 206.5h1M103 128.5h1M118 116.5h2M107 125.5h1M111 122.5h1M100 131.5h1M198 50.5h1M246 50.5h1M145 106.5h2M160 94.5h1M149 103.5h2M169 81.5h1M172 77.5h1M324 202.5h1M84 150.5h1M87 146.5h1M153 100.5h1M325 203.5h1M191 59.5h1M255 59.5h1M82 152.5h1M180 68.5h1M48 177.5h1M184 65.5h1M52 174.5h2M67 163.5h1M59 168.5h1M188 62.5h1M79 155.5h1M102 129.5h1M71 160.5h2M252 55.5h1M339 212.5h2M163 90.5h1M175 73.5h1M203 45.5h1M239 45.5h1M105 126.5h2M196 52.5h1M248 52.5h1M89 144.5h1M113 120.5h1M73 159.5h1M54 173.5h1M12 185.5h1M97 134.5h1M177 71.5h1M262 71.5h1M190 60.5h1M81 153.5h1M254 58.5h1M193 56.5h1M3 188.5h1M115 118.5h1M104 127.5h1M58 169.5h1M56 171.5h1M174 74.5h1M157 97.5h1M265 75.5h1M181 67.5h1M64 165.5h1M99 132.5h1M185 64.5h1M76 157.5h1M91 142.5h1M94 138.5h1" fill="none" stroke="#0000ff" stroke-width="1" shape-rendering="crispEdges"/>
<path d="M252.5 92v4M325.5 174v2M245.5 65v3M150.5 92v2M162.5 57v4M290.5 215v3M53.5 168v2M248.5 76v4M344.5 212v3M317.5 205v4M286.5 197v5M249.5 80v4M340.5 198v4M80.5 130v2M17.5 178v2M270.5 129v2M280.5 159v7M255.5 103v3M161.5 61v2M312.5 227v5M165.5 49v2M336.5 184v4M283.5 179v7M293.5 225v3M241.5 51v3M242.5 54v4M339.5 195v3M160.5 63v2M244.5 61v4M289.5 211v4M258.5 110v3M269.5 127v2M251.5 88v4M316.5 209v5M324.5 176v2M321.5 186v4M311.5 232v3M273.5 137v3M152.5 84v4M346.5 217v3M279.5 153v6M82.5 125v3M272.5 134v3M320.5 190v4M297.5 235v2M54.5 166v2M282.5 172v7M151.5 88v4M237.5 39v3M292.5 222v3M250.5 84v4M315.5 214v4M276.5 145v3M319.5 194v6M168.5 43v2M349.5 222v2M299.5 240v2M345.5 215v2M148.5 96v3M314.5 218v5M164.5 51v3M335.5 180v4M156.5 72v3M296.5 233v2M268.5 125v2M243.5 58v3M62.5 151v2M147.5 99v3M342.5 205v5M310.5 235v2M254.5 100v3M86.5 118v2M275.5 142v3M247.5 72v4M327.5 170v2M288.5 207v4M285.5 192v5M240.5 47v4M58.5 157v3M298.5 237v3M281.5 166v6M253.5 96v4M73.5 137v2M352.5 226v2M85.5 120v2M323.5 178v4M338.5 192v3M239.5 43v4M295.5 230v3M159.5 65v3M81.5 128v2M341.5 202v3M163.5 54v3M236.5 37v2M246.5 68v4M274.5 140v2M291.5 218v4M284.5 186v6M158.5 68v2M278.5 151v2M271.5 131v3M334.5 177v3M267.5 122v3M65.5 147v2M337.5 188v4M57.5 160v2M155.5 75v3M318.5 200v5M287.5 202v5M309.5 237v2M313.5 223v4M56.5 162v3M154.5 78v3M277.5 148v3M167.5 45v2M333.5 174v3M322.5 182v4M149.5 94v2M326.5 172v2M235.5 35v2M153.5 81v3M69.5 142v2M88.5 115v2M294.5 228v2M170.5 40v2M157.5 70v2M84.5 122v2M166.5 47v2M259.5 113v2M343.5 210v2M266.5 120v2M60.5 154v2M332.5 172v2M225.5 36v2M90.5 112v2M257.5 108v2M256.5 106v2M14.5 182v2M185 41.5h1M219 41.5h3M187 43.5h1M204 43.5h12M76 134.5h2M87 117.5h1M262 117.5h1M83 124.5h1M263 118.5h1M358 232.5h1M365 232.5h3M98 106.5h2M126 106.5h1M134 106.5h1M141 106.5h2M92 110.5h1M105 110.5h1M121 110.5h2M347 220.5h1M96 107.5h2M100 107.5h2M125 107.5h1M135 107.5h6M145 103.5h1M63 150.5h1M169 42.5h1M186 42.5h1M216 42.5h3M238 42.5h1M188 44.5h2M203 44.5h1M7 188.5h3M184 40.5h1M222 40.5h1M300 242.5h1M91 111.5h1M106 111.5h1M118 111.5h3M20 175.5h1M40 175.5h8M107 112.5h1M116 112.5h2M27 170.5h2M31 170.5h2M52 170.5h1M329 170.5h2M108 113.5h3M113 113.5h3M305 240.5h3M22 173.5h2M36 173.5h1M49 173.5h1M71 140.5h1M21 174.5h1M37 174.5h3M48 174.5h1M129 104.5h3M144 104.5h1M350 224.5h1M93 109.5h2M104 109.5h1M123 109.5h1M4 189.5h3M78 133.5h1M356 231.5h2M59 156.5h1M127 105.5h2M132 105.5h2M143 105.5h1M95 108.5h1M102 108.5h2M124 108.5h1M191 46.5h2M201 46.5h1M193 47.5h3M200 47.5h1M359 233.5h6M229 32.5h3M13 184.5h1M16 180.5h1M11 186.5h1M89 114.5h1M111 114.5h2M177 35.5h3M226 35.5h1M196 48.5h4M301 241.5h4M348 221.5h1M175 36.5h2M180 36.5h1M19 176.5h1M264 119.5h2M70 141.5h1M228 33.5h1M232 33.5h2M190 45.5h1M202 45.5h1M24 172.5h2M34 172.5h2M50 172.5h1M3 190.5h1M171 39.5h1M183 39.5h1M223 39.5h1M61 153.5h1M18 177.5h1M351 225.5h1M172 38.5h1M182 38.5h1M224 38.5h1M26 171.5h1M33 171.5h1M51 171.5h1M331 171.5h1M64 149.5h1M10 187.5h1M29 169.5h2M328 169.5h1M173 37.5h2M181 37.5h1M72 139.5h1M227 34.5h1M234 34.5h1M308 239.5h1M75 135.5h1M353 228.5h1M354 229.5h1M67 145.5h1M55 165.5h1M79 132.5h1M12 185.5h1M260 115.5h1M261 116.5h1M15 181.5h1M66 146.5h1M146 102.5h1M74 136.5h1M355 230.5h1M68 144.5h1" fill="none" stroke="#ff00ff" stroke-width="1" shape-rendering="crispEdges"/>
<g fill="#00ff00" shape-rendering="crispEdges">
<rect x="2" y="177" width="3" height="3"/><rect x="3" y="176" width="1" height="1"/>
<rect x="6" y="179" width="3" height="3"/><rect x="7" y="178" width="1" height="1"/>
<rect x="10" y="200" width="3" height="3"/><rect x="11" y="199" width="1" height="1"/>
<rect x="14" y="200" width="3" height="3"/><rect x="15" y="199" width="1" height="1"/>
<rect x="18" y="198" width="3" height="3"/><rect x="19" y="197" width="1" height="1"/>
<rect x="22" y="196" width="3" height="3"/><rect x="23" y="195" width="1" height="1"/>
<rect x="26" y="193" width="3" height="3"/><rect x="27" y="192" width="1" height="1"/>
<rect x="30" y="190" width="3" height="3"/><rect x="31" y="189" width="1" height="1"/>
<rect x="34" y="161" width="3" height="3"/><rect x="35" y="160" width="1" height="1"/>
<rect x="38" y="161" width="3" height="3"/><rect x="39" y="160" width="1" height="1"/>
<rect x="42" y="162" width="3" height="3"/><rect x="43" y="161" width="1" height="1"/>
<rect x="46" y="163" width="3" height="3"/><rect x="47" y="162" width="1" height="1"/>
<rect x="50" y="194" width="3" height="3"/><rect x="51" y="193" width="1" height="1"/>
<rect x="54" y="193" width="3" height="3"/><rect x="55" y="192" width="1" height="1"/>
<rect x="58" y="191" width="3" height="3"/><rect x="59" y="190" width="1" height="1"/>
<rect x="62" y="187" width="3" height="3"/><rect x="63" y="186" width="1" height="1"/>
<rect x="66" y="183" width="3" height="3"/><rect x="67" y="182" width="1" height="1"/>
<rect x="70" y="179" width="3" height="3"/><rect x="71" y="178" width="1" height="1"/>
<rect x="74" y="174" width="3" height="3"/><rect x="75" y="173" width="1" height="1"/>
<rect x="78" y="168" width="3" height="3"/><rect x="79" y="167" width="1" height="1"/>
<rect x="82" y="161" width="3" height="3"/><rect x="83" y="160" width="1" height="1"/>
<rect x="86" y="151" width="3" height="3"/><rect x="87" y="150" width="1" height="1"/>
<rect x="90" y="143" width="3" height="3"/><rect x="91" y="142" width="1" height="1"/>
<rect x="94" y="133" width="3" height="3"/><rect x="95" y="132" width="1" height="1"/>
<rect x="98" y="125" width="3" height="3"/><rect x="99" y="124" width="1" height="1"/>
<rect x="102" y="86" width="3" height="3"/><rect x="103" y="85" width="1" height="1"/>
<rect x="106" y="87" width="3" height="3"/><rect x="107" y="86" width="1" height="1"/>
<rect x="110" y="89" width="3" height="3"/><rect x="111" y="88" width="1" height="1"/>
<rect x="114" y="91" width="3" height="3"/><rect x="115" y="90" width="1" height="1"/>
<rect x="118" y="92" width="3" height="3"/><rect x="119" y="91" width="1" height="1"/>
<rect x="122" y="130" width="3" height="3"/><rect x="123" y="129" width="1" height="1"/>
<rect x="126" y="129" width="3" height="3"/><rect x="127" y="128" width="1" height="1"/>
<rect x="130" y="129" width="3" height="3"/><rect x="131" y="128" width="1" height="1"/>
<rect x="134" y="127" width="3" height="3"/><rect x="135" y="126" width="1" height="1"/>
<rect x="138" y="125" width="3" height="3"/><rect x="139" y="124" width="1" height="1"/>
<rect x="142" y="124" width="3" height="3"/><rect x="143" y="123" width="1" height="1"/>
<rect x="146" y="122" width="3" height="3"/><rect x="147" y="121" width="1" height="1"/>
<rect x="150" y="119" width="3" height="3"/><rect x="151" y="118" width="1" height="1"/>
<rect x="154" y="114" width="3" height="3"/><rect x="155" y="113" width="1" height="1"/>
<rect x="158" y="106" width="3" height="3"/><rect x="159" y="105" width="1" height="1"/>
<rect x="162" y="96" width="3" height="3"/><rect x="163" y="95" width="1" height="1"/>
<rect x="166" y="88" width="3" height="3"/><rect x="167" y="87" width="1" height="1"/>
<rect x="170" y="80" width="3" height="3"/><rect x="171" y="79" width="1" height="1"/>
<rect x="174" y="72" width="3" height="3"/><rect x="175" y="71" width="1" height="1"/>
<rect x="178" y="64" width="3" height="3"/><rect x="179" y="63" width="1" height="1"/>
<rect x="182" y="16" width="3" height="3"/><rect x="183" y="15" width="1" height="1"/>
<rect x="186" y="16" width="3" height="3"/><rect x="187" y="15" width="1" height="1"/>
<rect x="190" y="18" width="3" height="3"/><rect x="191" y="17" width="1" height="1"/>
<rect x="194" y="20" width="3" height="3"/><rect x="195" y="19" width="1" height="1"/>
<rect x="198" y="22" width="3" height="3"/><rect x="199" y="21" width="1" height="1"/>
<rect x="202" y="24" width="3" height="3"/><rect x="203" y="23" width="1" height="1"/>
<rect x="206" y="25" width="3" height="3"/><rect x="207" y="24" width="1" height="1"/>
<rect x="210" y="27" width="3" height="3"/><rect x="211" y="26" width="1" height="1"/>
<rect x="214" y="28" width="3" height="3"/><rect x="215" y="27" width="1" height="1"/>
<rect x="218" y="65" width="3" height="3"/><rect x="219" y="64" width="1" height="1"/>
<rect x="222" y="64" width="3" height="3"/><rect x="223" y="63" width="1" height="1"/>
<rect x="226" y="63" width="3" height="3"/><rect x="227" y="62" width="1" height="1"/>
<rect x="230" y="60" width="3" height="3"/><rect x="231" y="59" width="1" height="1"/>
<rect x="234" y="57" width="3" height="3"/><rect x="235" y="56" width="1" height="1"/>
<rect x="238" y="15" width="3" height="3"/><rect x="239" y="14" width="1" height="1"/>
<rect x="242" y="16" width="3" height="3"/><rect x="243" y="15" width="1" height="1"/>
<rect x="246" y="20" width="3" height="3"/><rect x="247" y="19" width="1" height="1"/>
<rect x="250" y="25" width="3" height="3"/><rect x="251" y="24" width="1" height="1"/>
<rect x="254" y="32" width="3" height="3"/><rect x="255" y="31" width="1" height="1"/>
<rect x="258" y="43" width="3" height="3"/><rect x="259" y="42" width="1" height="1"/>
<rect x="262" y="57" width="3" height="3"/><rect x="263" y="56" width="1" height="1"/>
<rect x="266" y="69" width="3" height="3"/><rect x="267" y="68" width="1" height="1"/>
<rect x="270" y="80" width="3" height="3"/><rect x="271" y="79" width="1" height="1"/>
<rect x="274" y="92" width="3" height="3"/><rect x="275" y="91" width="1" height="1"/>
<rect x="278" y="110" width="3" height="3"/><rect x="279" y="109" width="1" height="1"/>
<rect x="282" y="124" width="3" height="3"/><rect x="283" y="123" width="1" height="1"/>
<rect x="286" y="147" width="3" height="3"/><rect x="287" y="146" width="1" height="1"/>
<rect x="290" y="170" width="3" height="3"/><rect x="291" y="169" width="1" height="1"/>
<rect x="294" y="189" width="3" height="3"/><rect x="295" y="188" width="1" height="1"/>
<rect x="298" y="203" width="3" height="3"/><rect x="299" y="202" width="1" height="1"/>
<rect x="302" y="262" width="3" height="3"/><rect x="303" y="261" width="1" height="1"/>
<rect x="306" y="261" width="3" height="3"/><rect x="307" y="260" width="1" height="1"/>
<rect x="310" y="260" width="3" height="3"/><rect x="311" y="259" width="1" height="1"/>
<rect x="314" y="257" width="3" height="3"/><rect x="315" y="256" width="1" height="1"/>
<rect x="318" y="248" width="3" height="3"/><rect x="319" y="247" width="1" height="1"/>
<rect x="322" y="240" width="3" height="3"/><rect x="323" y="239" width="1" height="1"/>
<rect x="326" y="231" width="3" height="3"/><rect x="327" y="230" width="1" height="1"/>
<rect x="330" y="224" width="3" height="3"/><rect x="331" y="223" width="1" height="1"/>
<rect x="334" y="103" width="3" height="3"/><rect x="335" y="102" width="1" height="1"/>
<rect x="338" y="105" width="3" height="3"/><rect x="339" y="104" width="1" height="1"/>
<rect x="342" y="111" width="3" height="3"/><rect x="343" y="110" width="1" height="1"/>
<rect x="346" y="118" width="3" height="3"/><rect x="347" y="117" width="1" height="1"/>
<rect x="350" y="125" width="3" height="3"/><rect x="351" y="124" width="1" height="1"/>
<rect x="354" y="135" width="3" height="3"/><rect x="355" y="134" width="1" height="1"/>
<rect x="358" y="145" width="3" height="3"/><rect x="359" y="144" width="1" height="1"/>
<rect x="362" y="155" width="3" height="3"/><rect x="363" y="154" width="1" height="1"/>
<rect x="366" y="165" width="3" height="3"/><rect x="367" y="164" width="1" height="1"/>
</g>
<path d="M391 191.5h2M275 117.5h2M330 152.5h2M430 216.5h2M314 142.5h2M288 125.5h1M369 177.5h2M404 199.5h1M434 218.5h1M399 196.5h2M283 122.5h2M267 112.5h2M357 169.5h1M350 165.5h2M405 200.5h2M274 116.5h1M419 209.5h2M303 135.5h2M358 170.5h2M393 192.5h1M377 182.5h2M261 108.5h2M281 121.5h2M372 179.5h2M346 162.5h1M311 140.5h2M427 214.5h2M385 187.5h2M269 113.5h1M413 205.5h2M263 109.5h1M415 206.5h1M264 110.5h2M347 163.5h2M366 175.5h2M332 153.5h1M305 136.5h2M270 114.5h2M421 210.5h2M435 219.5h2M319 145.5h2M285 123.5h1M339 158.5h2M374 180.5h2M408 202.5h2M325 149.5h2M327 150.5h2M321 146.5h1M278 119.5h2M333 154.5h2M394 193.5h2M424 212.5h2M308 138.5h2M363 173.5h2M402 198.5h2M286 124.5h2M432 217.5h2M316 143.5h2M390 190.5h1M383 186.5h2M438 221.5h2M322 147.5h2M307 137.5h1M336 156.5h2M302 134.5h1M426 213.5h1M294 129.5h2M260 107.5h1M289 126.5h2M344 161.5h2M379 183.5h1M296 130.5h1M380 184.5h2M338 157.5h1M365 174.5h1M368 176.5h1M352 166.5h2M407 201.5h1M291 127.5h1M441 223.5h2M437 220.5h1M360 171.5h1M388 189.5h2M354 167.5h1M292 128.5h2M443 224.5h1M277 118.5h1M341 159.5h2M396 194.5h2M280 120.5h1M361 172.5h2M410 203.5h2M349 164.5h1M423 211.5h1M300 133.5h2M266 111.5h1M355 168.5h2M416 207.5h2M335 155.5h1M343 160.5h1M412 204.5h1M329 151.5h1M297 131.5h2M371 178.5h1M398 195.5h1M401 197.5h1M440 222.5h1M324 148.5h1M318 144.5h1M387 188.5h1M310 139.5h1M429 215.5h1M313 141.5h1M382 185.5h1M299 132.5h1M272 115.5h2M418 208.5h1M376 181.5h1" fill="none" stroke="#ff0000" stroke-width="1" shape-rendering="crispEdges"/>
<path d="M384.5 193v3M374.5 221v2M381.5 201v3M379.5 207v3M378.5 210v2M385.5 191v2M377.5 212v3M376.5 215v3M383.5 196v3M375.5 218v3M380.5 204v3M382.5 199v2" fill="none" stroke="#ff00ff" stroke-width="1" shape-rendering="crispEdges"/>
<path d="M378 197.5h1M382 193.5h2M381 194.5h1M376 199.5h1M379 196.5h1M384 192.5h1M380 195.5h1M385 191.5h1M377 198.5h1" fill="none" stroke="#ff00ff" stroke-width="1" shape-rendering="crispEdges"/>
<path d="M385.5 191v4M386.5 195v10" fill="none" stroke="#ff00ff" stroke-width="1" shape-rendering="crispEdges"/>
<circle cx="380.5" cy="235.5" r="2.6" fill="#ff0000"/>
<path d="M32.5 329v3M14.5 311v2M47.5 327v2M134.5 330v4M9.5 319v2M237.5 343v3M309.5 356v6M60.5 311v2M324.5 337v3M93.5 305v4M180.5 321v2M147.5 314v2M240.5 353v2M325.5 340v3M35.5 338v2M308.5 362v6M214.5 327v2M362.5 351v3M206.5 331v4M21.5 314v5M177.5 314v2M270.5 361v3M271.5 364v3M236.5 339v4M198.5 324v2M179.5 318v3M137.5 332v2M239.5 350v3M157.5 309v3M361.5 354v2M62.5 315v2M31.5 326v3M23.5 323v2M360.5 356v3M8.5 321v2M312.5 343v3M122.5 323v2M311.5 346v4M20.5 310v4M307.5 368v2M254.5 362v2M61.5 313v2M133.5 326v4M269.5 357v4M30.5 324v2M34.5 335v3M13.5 313v2M49.5 324v2M110.5 321v2M176.5 312v2M156.5 307v2M53.5 318v2M315.5 335v2M253.5 360v2M205.5 328v3M310.5 350v6M268.5 354v3M145.5 318v3M178.5 316v2M314.5 337v3M121.5 320v3M38.5 331v3M141.5 326v2M22.5 319v4M109.5 323v3M37.5 334v3M204.5 324v4M101.5 319v4M235.5 336v3M238.5 346v4M52.5 320v2M33.5 332v3M26.5 320v2M29.5 322v2M102.5 323v3M282.5 376v2M132.5 323v3M313.5 340v3M135.5 334v2M108.5 326v2M263.5 358v2M281.5 374v2M210.5 332v2M222.5 324v2M36.5 337v2M146.5 316v2M335.5 354v2M100.5 316v3M162.5 310v2M154.5 306v2M262.5 360v2M207.5 335v2M138.5 330v2M327.5 345v2M266.5 353v2M92.5 302v3M103.5 326v2M12.5 315v2M265.5 355v2M144.5 321v2M326.5 343v2M95.5 312v2M261.5 362v2M182.5 325v2M57.5 312v2M227.5 327v2M94.5 309v3M197.5 322v2M44.5 331v2M56.5 314v2M181.5 323v2M158.5 312v2M143.5 323v2M241.5 355v2M67 315.5h2M99 315.5h1M246 356.5h1M248 356.5h2M336 356.5h2M341 356.5h1M350 356.5h2M43 333.5h1M232 333.5h1M318 333.5h2M15 310.5h1M59 310.5h1M74 310.5h1M151 310.5h1M164 310.5h2M171 310.5h4M82 303.5h6M4 326.5h1M48 326.5h1M187 326.5h2M199 326.5h1M215 326.5h1M221 326.5h1M226 326.5h1M11 317.5h1M54 317.5h1M63 317.5h2M115 317.5h4M242 357.5h1M245 357.5h1M250 357.5h1M264 357.5h1M338 357.5h1M340 357.5h1M352 357.5h2M58 311.5h1M73 311.5h1M150 311.5h1M166 311.5h5M175 311.5h1M301 374.5h1M243 358.5h2M251 358.5h1M339 358.5h1M354 358.5h1M104 328.5h2M107 328.5h1M140 328.5h1M218 328.5h2M331 350.5h1M363 350.5h1M365 350.5h3M89 301.5h3M7 323.5h1M24 323.5h1M50 323.5h1M127 323.5h1M191 323.5h1M202 323.5h2M223 323.5h1M69 314.5h2M96 314.5h3M159 314.5h1M247 355.5h1M342 355.5h1M347 355.5h3M267 353.5h1M334 353.5h1M5 325.5h1M123 325.5h2M142 325.5h1M189 325.5h1M200 325.5h1M225 325.5h1M79 306.5h1M155 306.5h1M274 369.5h1M72 312.5h1M149 312.5h1M161 312.5h1M17 308.5h2M76 308.5h1M153 308.5h1M252 359.5h1M355 359.5h5M27 320.5h1M111 320.5h1M194 320.5h2M285 376.5h1M294 376.5h4M299 376.5h1M39 330.5h1M45 330.5h1M212 330.5h1M229 330.5h1M258 366.5h1M276 371.5h3M304 371.5h2M273 368.5h1M55 316.5h1M65 316.5h2M286 375.5h8M300 375.5h1M136 334.5h1M209 334.5h1M233 334.5h1M316 334.5h2M320 334.5h1M42 332.5h1M231 332.5h1M279 372.5h1M303 372.5h1M6 324.5h1M125 324.5h2M190 324.5h1M201 324.5h1M224 324.5h1M284 377.5h1M298 377.5h1M10 318.5h1M113 318.5h2M119 318.5h1M330 349.5h1M364 349.5h1M46 329.5h1M106 329.5h1M139 329.5h1M213 329.5h1M228 329.5h1M323 336.5h1M77 307.5h2M3 327.5h1M183 327.5h4M216 327.5h2M220 327.5h1M81 304.5h1M71 313.5h1M148 313.5h1M160 313.5h1M208 335.5h1M234 335.5h1M321 335.5h2M16 309.5h1M19 309.5h1M75 309.5h1M152 309.5h1M163 309.5h1M88 302.5h1M28 321.5h1M129 321.5h2M193 321.5h1M196 321.5h1M333 352.5h1M40 331.5h2M211 331.5h1M230 331.5h1M275 370.5h1M306 370.5h1M256 365.5h2M259 365.5h1M332 351.5h1M25 322.5h1M51 322.5h1M128 322.5h1M131 322.5h1M192 322.5h1M280 373.5h1M302 373.5h1M283 378.5h1M255 364.5h1M260 364.5h1M112 319.5h1M120 319.5h1M328 347.5h1M343 354.5h4M80 305.5h1M272 367.5h1M329 348.5h1" fill="none" stroke="#ff0000" stroke-width="1" shape-rendering="crispEdges"/>
<g fill="#000" shape-rendering="crispEdges">
<rect x="2" y="2" width="572" height="1"/>
<rect x="2" y="270" width="572" height="1"/>
<rect x="2" y="272" width="572" height="1"/>
<rect x="2" y="405" width="572" height="1"/>
<rect x="2" y="2" width="1" height="404"/>
<rect x="573" y="2" width="1" height="404"/>
<rect x="574" y="12" width="2" height="1"/>
<rect x="574" y="44" width="2" height="1"/>
<rect x="574" y="76" width="2" height="1"/>
<rect x="574" y="108" width="2" height="1"/>
<rect x="574" y="140" width="2" height="1"/>
<rect x="574" y="172" width="2" height="1"/>
<rect x="574" y="204" width="2" height="1"/>
<rect x="574" y="236" width="2" height="1"/>
<rect x="574" y="268" width="2" height="1"/>
<rect x="574" y="274" width="2" height="1"/>
<rect x="3" y="406" width="1" height="3"/>
<rect x="67" y="406" width="1" height="3"/>
<rect x="131" y="406" width="1" height="3"/>
<rect x="195" y="406" width="1" height="3"/>
<rect x="259" y="406" width="1" height="3"/>
<rect x="323" y="406" width="1" height="3"/>
<rect x="576" y="218" width="35" height="11"/>
</g>
<text x="579.4" y="15" font-size="10" textLength="32.1" lengthAdjust="spacingAndGlyphs">1.60930</text>
<text x="579.4" y="47" font-size="10" textLength="32.1" lengthAdjust="spacingAndGlyphs">1.56145</text>
<text x="579.4" y="79" font-size="10" textLength="32.1" lengthAdjust="spacingAndGlyphs">1.51360</text>
<text x="579.4" y="111" font-size="10" textLength="32.1" lengthAdjust="spacingAndGlyphs">1.46575</text>
<text x="579.4" y="143" font-size="10" textLength="32.1" lengthAdjust="spacingAndGlyphs">1.41790</text>
<text x="579.4" y="175" font-size="10" textLength="32.1" lengthAdjust="spacingAndGlyphs">1.37005</text>
<text x="579.4" y="207" font-size="10" textLength="32.1" lengthAdjust="spacingAndGlyphs">1.32220</text>
<text x="579.4" y="239" font-size="10" textLength="32.1" lengthAdjust="spacingAndGlyphs">1.27435</text>
<text x="579.4" y="271" font-size="10" textLength="32.1" lengthAdjust="spacingAndGlyphs">1.22650</text>
<text x="579.4" y="227" font-size="10" textLength="32.1" lengthAdjust="spacingAndGlyphs" style="fill:#fff;stroke:#fff">1.29141</text>
<text x="577.3" y="283" font-size="10" textLength="14" lengthAdjust="spacingAndGlyphs">100</text>
<text x="575.3" y="316" font-size="10" textLength="10.4" lengthAdjust="spacingAndGlyphs">70</text>
<text x="575.5" y="368" font-size="10" textLength="10.2" lengthAdjust="spacingAndGlyphs">30</text>
<text x="576.0" y="402" font-size="10" textLength="5.8" lengthAdjust="spacingAndGlyphs">0</text>
<rect x="7" y="5" width="219" height="11" fill="#fff"/>
<rect x="7" y="277" width="68" height="11" fill="#fff"/>
<text x="6.7" y="14.1" font-size="10" textLength="71" lengthAdjust="spacingAndGlyphs">EURUSD,Weekly</text>
<text x="86.2" y="14.1" font-size="10" textLength="32" lengthAdjust="spacingAndGlyphs">1.28492</text>
<text x="122.6" y="14.1" font-size="10" textLength="32" lengthAdjust="spacingAndGlyphs">1.29211</text>
<text x="158.3" y="14.1" font-size="10" textLength="32" lengthAdjust="spacingAndGlyphs">1.28482</text>
<text x="195.6" y="14.1" font-size="10" textLength="29.8" lengthAdjust="spacingAndGlyphs">1.29141</text>
<text x="6.8" y="286" font-size="10" textLength="68" lengthAdjust="spacingAndGlyphs">RSI(12) 41.7449</text>
<text x="5.8" y="399.8" font-size="10" textLength="236.5" lengthAdjust="spacingAndGlyphs">MetaTrader, ? 2001-2008 MetaQuotes Software Corp.</text>
<text x="2.8" y="417.5" font-size="10" textLength="48" lengthAdjust="spacingAndGlyphs">17 Jun 2007</text>
<text x="66.3" y="417.5" font-size="10" textLength="42.8" lengthAdjust="spacingAndGlyphs">7 Oct 2007</text>
<text x="129.7" y="417.5" font-size="10" textLength="49.2" lengthAdjust="spacingAndGlyphs">27 Jan 2008</text>
<text x="194.6" y="417.5" font-size="10" textLength="53.8" lengthAdjust="spacingAndGlyphs">18 May 2008</text>
<text x="258.2" y="417.5" font-size="10" textLength="45.6" lengthAdjust="spacingAndGlyphs">7 Sep 2008</text>
<text x="321.5" y="417.5" font-size="10" textLength="51.2" lengthAdjust="spacingAndGlyphs">28 Dec 2008</text>
</svg></body></html>
